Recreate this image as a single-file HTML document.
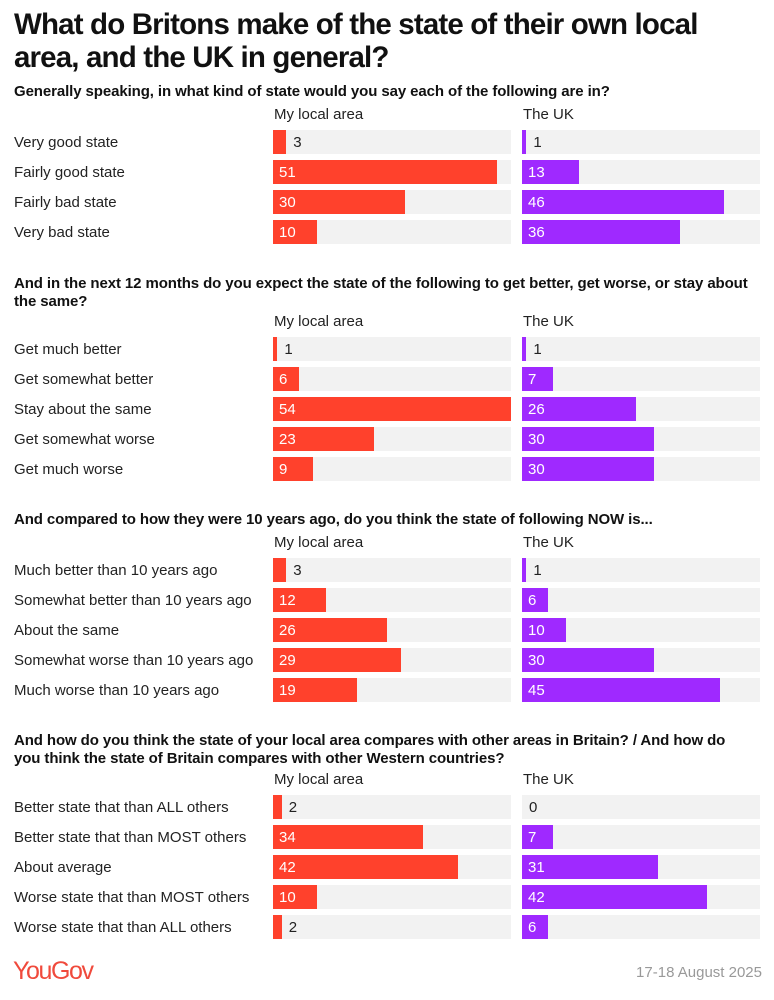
<!DOCTYPE html>
<html><head><meta charset="utf-8"><style>
body{margin:0;width:774px;height:1000px;background:#fff;font-family:"Liberation Sans",sans-serif;color:#111;position:relative;overflow:hidden}
.abs{position:absolute;white-space:nowrap}
.title{left:14px;top:8px;font-size:29.5px;font-weight:bold;line-height:33px;letter-spacing:-0.85px}
.q{left:14px;font-size:15px;font-weight:bold;line-height:18px;letter-spacing:-0.1px;white-space:normal;width:735px}
.hdr{font-size:15px;color:#222}
.lab{left:14px;font-size:15px;color:#222}
.track{background:#f2f2f2;height:24px}
.bar{height:24px}
.val{font-size:15px;line-height:26px}
</style></head><body>
<div class="abs title">What do Britons make of the state of their own local<br>area, and the UK in general?</div>
<div id="root"></div>
<div class="abs" style="left:13px;top:957px;font-size:25px;color:#f04a3c;letter-spacing:-1.4px">YouGov</div>
<div class="abs" style="right:12px;top:964px;font-size:15px;color:#999">17-18 August 2025</div>
<script>
const q1Cats=["Very good state","Fairly good state","Fairly bad state","Very bad state"];
const q1Local=[3,51,30,10];
const q1UK=[1,13,46,36];
const q2Cats=["Get much better","Get somewhat better","Stay about the same","Get somewhat worse","Get much worse"];
const q2Local=[1,6,54,23,9];
const q2UK=[1,7,26,30,30];
const q3Cats=["Much better than 10 years ago","Somewhat better than 10 years ago","About the same","Somewhat worse than 10 years ago","Much worse than 10 years ago"];
const q3Local=[3,12,26,29,19];
const q3UK=[1,6,10,30,45];
const q4Cats=["Better state that than ALL others","Better state that than MOST others","About average","Worse state that than MOST others","Worse state that than ALL others"];
const q4Local=[2,34,42,10,2];
const q4UK=[0,7,31,42,6];
const questions=["Generally speaking, in what kind of state would you say each of the following are in?","And in the next 12 months do you expect the state of the following to get better, get worse, or stay about the same?","And compared to how they were 10 years ago, do you think the state of following NOW is...","And how do you think the state of your local area compares with other areas in Britain? / And how do you think the state of Britain compares with other Western countries?"];
const sections=[[q1Cats,q1Local,q1UK],[q2Cats,q2Local,q2UK],[q3Cats,q3Local,q3UK],[q4Cats,q4Local,q4UK]];
const qTops=[83,275,511,732];
const hdrTops=[106,313,534,771];
const rowTops=[130,337,558,795];
const cols=[{x:273,color:"#ff412c",name:"My local area"},{x:522,color:"#9f29ff",name:"The UK"}];
const trackW=238, pxPer=4.4;
const xs=v=>v*pxPer;
const root=document.getElementById('root');
function mk(cls,style,text){const d=document.createElement('div');d.className='abs '+cls;d.setAttribute('style',style);if(text!=null)d.textContent=text;root.appendChild(d);return d;}
sections.forEach((s,si)=>{
  const q=mk('q','top:'+qTops[si]+'px',questions[si]);
  
  
  cols.forEach((c,ci)=>{
    const h=mk('hdr','left:'+(c.x+1)+'px;top:'+hdrTops[si]+'px',c.name);
    
    
  });
  s[0].forEach((cat,ri)=>{
    const y=rowTops[si]+ri*30;
    const l=mk('lab','top:'+(y+4)+'px',cat);
    
    
    cols.forEach((c,ci)=>{
      const v=s[ci+1][ri];
      const t=mk('track','left:'+c.x+'px;top:'+y+'px;width:'+trackW+'px');
      
      
      const b=mk('bar','left:'+c.x+'px;top:'+y+'px;width:'+xs(v)+'px;background:'+c.color);
      
      
      const inside=v>=5;
      const vx=inside?c.x+6:c.x+xs(v)+7;
      const vl=mk('val','left:'+vx+'px;top:'+y+'px;color:'+(inside?'#fff':'#222'),String(v));
      
      
    });
  });
});
</script>
</body></html>
